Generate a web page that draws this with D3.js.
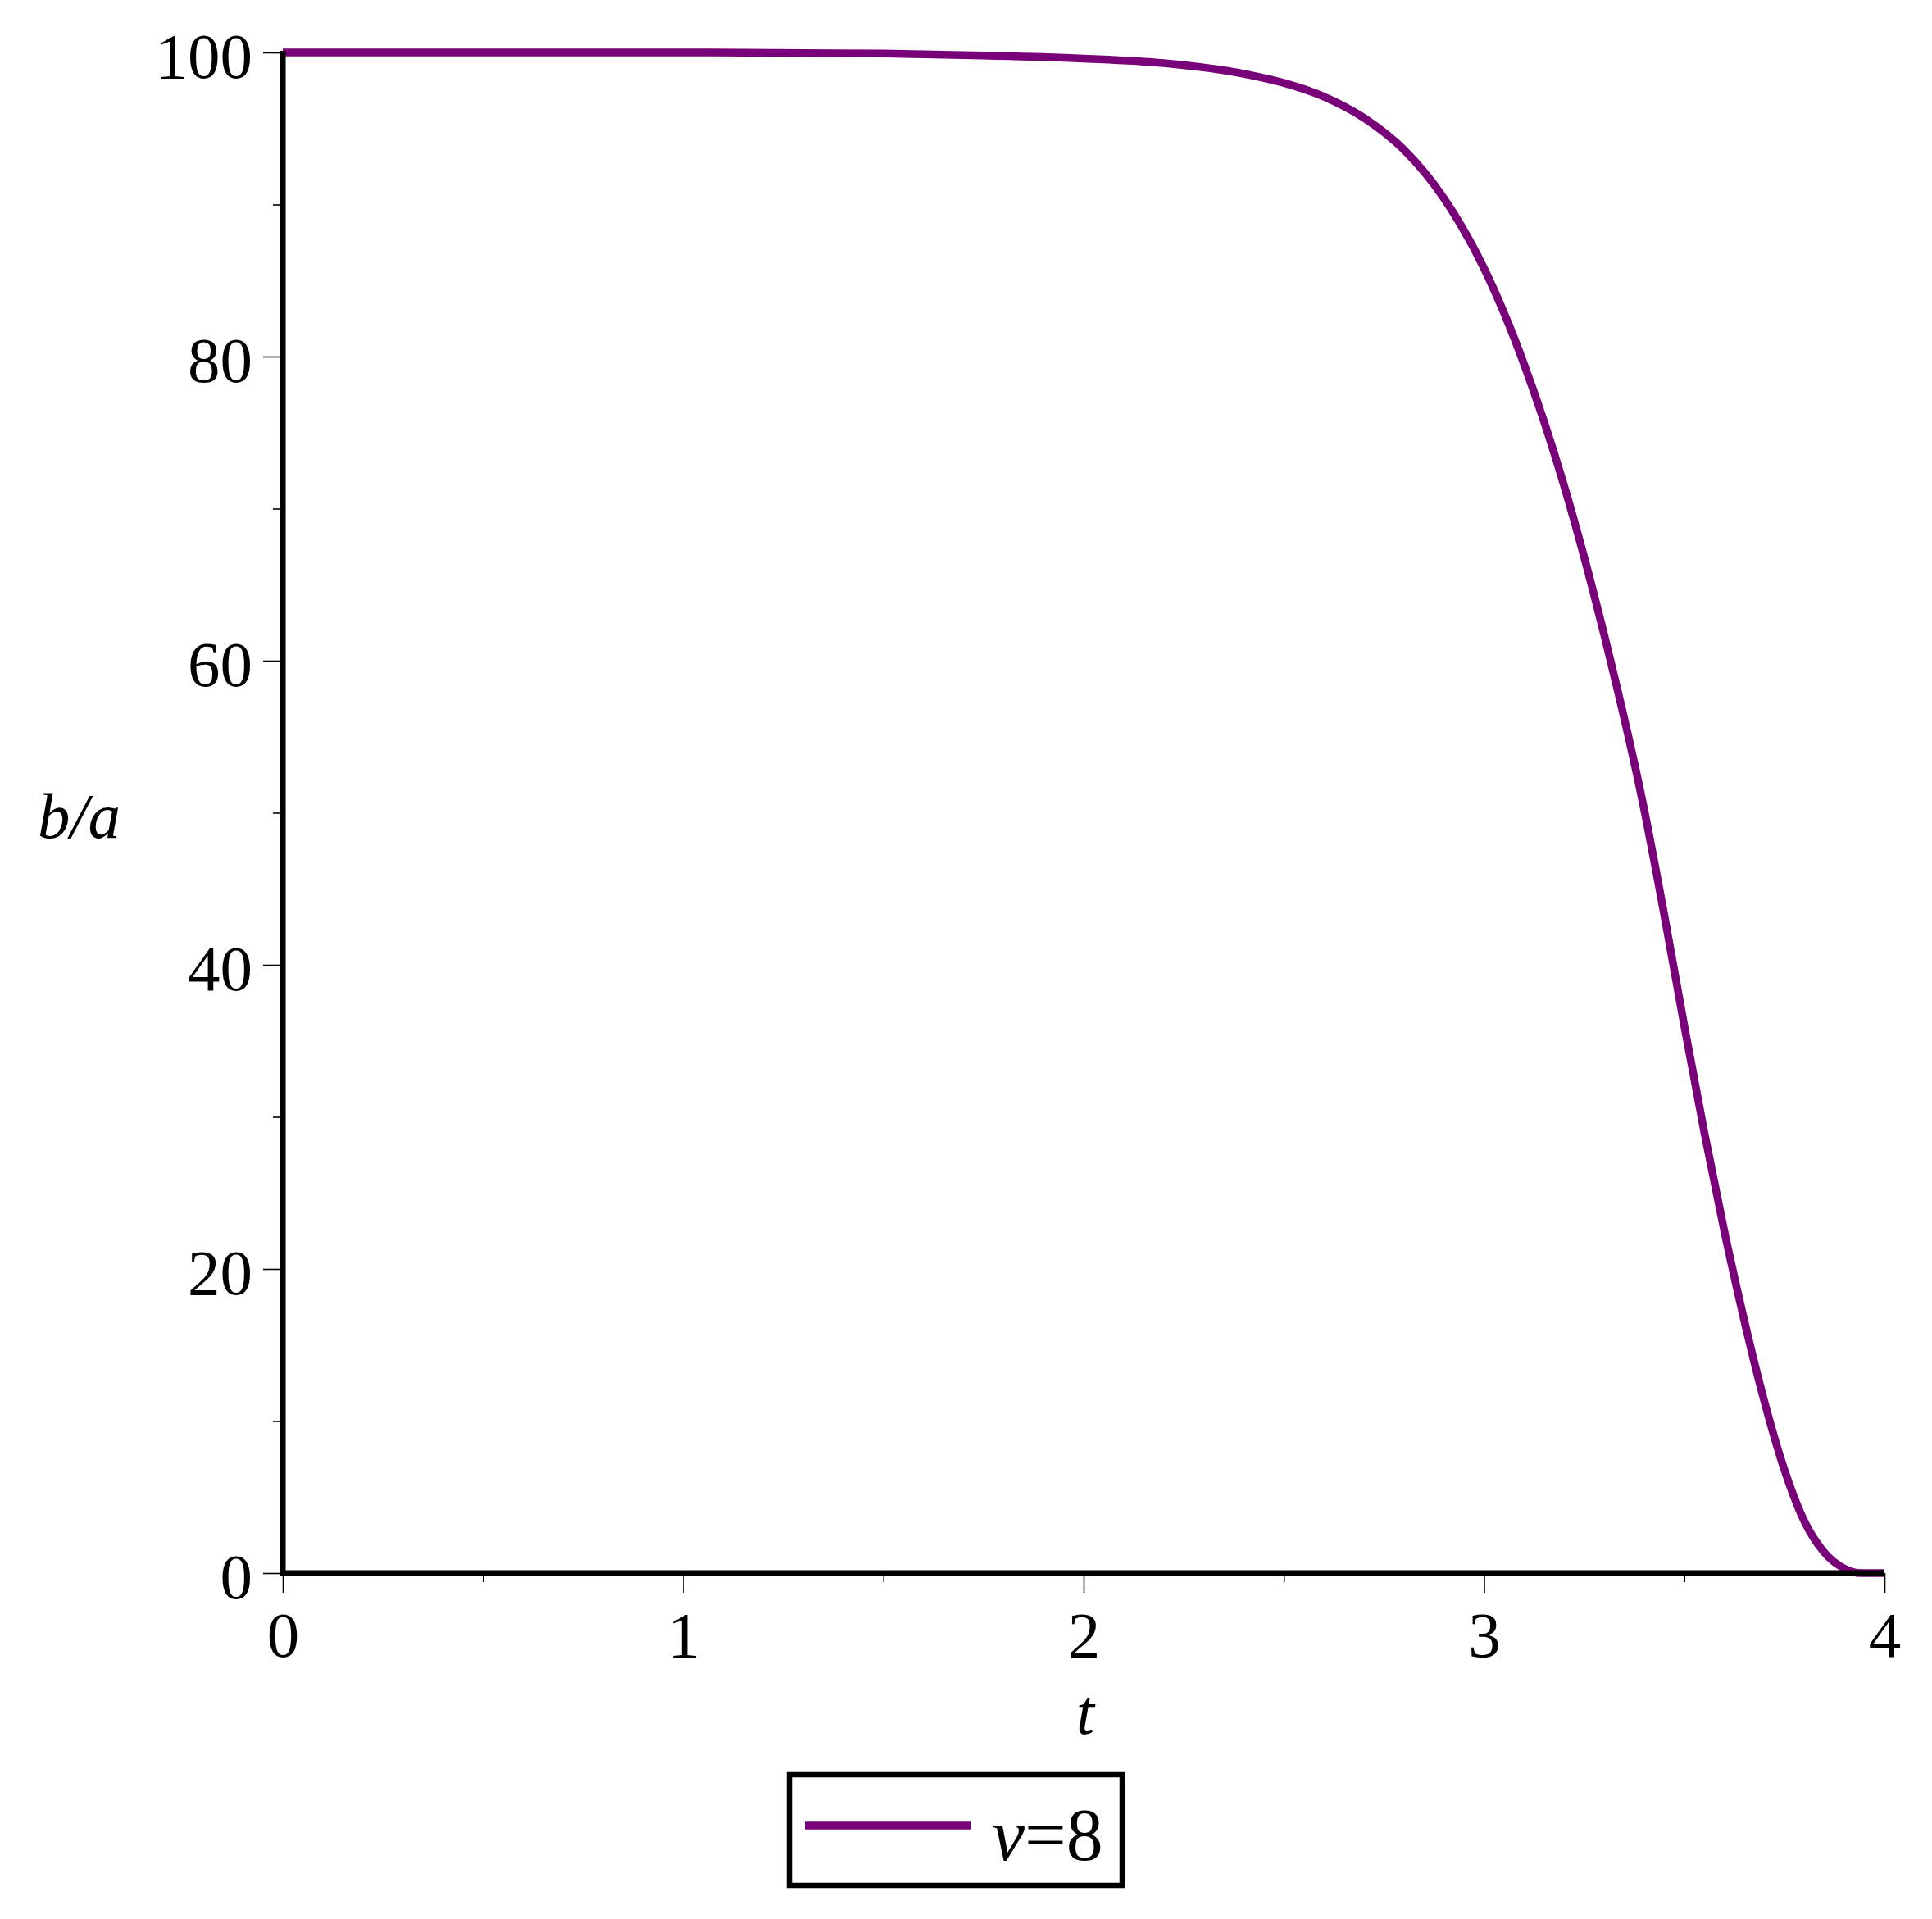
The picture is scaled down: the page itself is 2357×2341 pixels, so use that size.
<!DOCTYPE html>
<html>
<head>
<meta charset="utf-8">
<script src="https://cdn.jsdelivr.net/npm/d3@7"></script>
<style>
  html, body { margin: 0; padding: 0; background: #ffffff; }
  svg { display: block; }
  text { font-family: "Liberation Serif", "Times New Roman", serif; fill: #000; }
</style>
</head>
<body>
<svg id="chart" width="2357" height="2341"></svg>
<script>
// ---- data ----
const tValues = [0, 0.5, 1.0, 1.5, 1.75, 2.0, 2.2, 2.4, 2.5, 2.6, 2.7, 2.8, 2.9, 3.0, 3.1, 3.2, 3.3, 3.4, 3.45, 3.5, 3.55, 3.6, 3.65, 3.7, 3.75, 3.8, 3.85, 3.9, 3.94, 4.0];
const baValues = [100, 100, 100, 99.93, 99.8, 99.6, 99.3, 98.6, 98.0, 97.1, 95.7, 93.6, 90.4, 85.8, 79.5, 71.5, 61.7, 50.2, 43.3, 36.0, 29.0, 22.5, 16.6, 11.3, 6.8, 3.4, 1.35, 0.3, 0, 0];
const xMajorTicks = [0, 1, 2, 3, 4];
const xMinorTicks = [0.5, 1.5, 2.5, 3.5];
const yMajorTicks = [0, 20, 40, 60, 80, 100];
const yMinorTicks = [10, 30, 50, 70, 90];
const seriesLabel = "ν";
const seriesValue = "=8";
const xLabel = "t";
const yLabel = "b/a";

// ---- layout ----
const svg = d3.select("#chart");
svg.append("rect").attr("width", 2357).attr("height", 2341).attr("fill", "#fff");

const x = d3.scaleLinear().domain([0, 4]).range([345, 2299]);
const y = d3.scaleLinear().domain([0, 100]).range([1919, 64]);
const curveColor = "#780078";

// minor ticks
const gxMinor = svg.append("g").attr("transform", `translate(0,${y(0)})`)
  .call(d3.axisBottom(x).tickValues(xMinorTicks).tickSize(11).tickSizeOuter(0).tickFormat(""));
const gyMinor = svg.append("g").attr("transform", `translate(${x(0)},0)`)
  .call(d3.axisLeft(y).tickValues(yMinorTicks).tickSize(12).tickSizeOuter(0).tickFormat(""));
[gxMinor, gyMinor].forEach(g => {
  g.select(".domain").remove();
  g.selectAll(".tick line").attr("stroke", "#000").attr("stroke-width", 1.6);
});

// major ticks
const gx = svg.append("g").attr("transform", `translate(0,${y(0)})`)
  .call(d3.axisBottom(x).tickValues(xMajorTicks).tickSize(24).tickSizeOuter(0).tickPadding(0).tickFormat(d3.format("d")));
const gy = svg.append("g").attr("transform", `translate(${x(0)},0)`)
  .call(d3.axisLeft(y).tickValues(yMajorTicks).tickSize(24).tickSizeOuter(0).tickPadding(0).tickFormat(d3.format("d")));
[gx, gy].forEach(g => {
  g.select(".domain").remove();
  g.selectAll(".tick line").attr("stroke", "#000").attr("stroke-width", 1.6);
  g.selectAll(".tick text").attr("font-family", "Liberation Serif").attr("font-size", 79).attr("fill", "#000");
});
gx.selectAll(".tick text").attr("y", 102).attr("dy", 0);
gy.selectAll(".tick text").attr("x", -37).attr("dy", 0).attr("y", 30);

// curve
const pts = tValues.map((t, i) => [t, baValues[i]]);
svg.append("path")
  .datum(pts)
  .attr("fill", "none")
  .attr("stroke", curveColor)
  .attr("stroke-width", 9.5)
  .attr("d", d3.line().x(d => x(d[0])).y(d => y(d[1])).curve(d3.curveMonotoneX));

// axis lines
svg.append("line").attr("x1", x(0)).attr("x2", x(0)).attr("y1", y(100) - 2).attr("y2", y(0) + 3.5)
  .attr("stroke", "#000").attr("stroke-width", 7);
svg.append("line").attr("x1", x(0) - 3.5).attr("x2", x(4)).attr("y1", y(0)).attr("y2", y(0))
  .attr("stroke", "#000").attr("stroke-width", 7);

// axis labels
svg.append("text").attr("x", 1324).attr("y", 2115).attr("text-anchor", "middle")
  .attr("font-size", 79).attr("font-style", "italic").text(xLabel);
svg.append("text").attr("x", 46).attr("y", 1022).attr("text-anchor", "start")
  .attr("font-size", 79).attr("font-style", "italic").text(yLabel);

// legend
const lg = svg.append("g");
lg.append("rect").attr("x", 963).attr("y", 2165).attr("width", 406).attr("height", 135)
  .attr("fill", "#fff").attr("stroke", "#000").attr("stroke-width", 6.5);
lg.append("line").attr("x1", 982).attr("x2", 1184).attr("y1", 2227).attr("y2", 2227)
  .attr("stroke", curveColor).attr("stroke-width", 9.5);
const lt = lg.append("text").attr("x", 1210).attr("y", 2269).attr("font-size", 90);
lt.append("tspan").attr("font-style", "italic").text(seriesLabel);
lt.append("tspan").text(seriesValue);
</script>
</body>
</html>
